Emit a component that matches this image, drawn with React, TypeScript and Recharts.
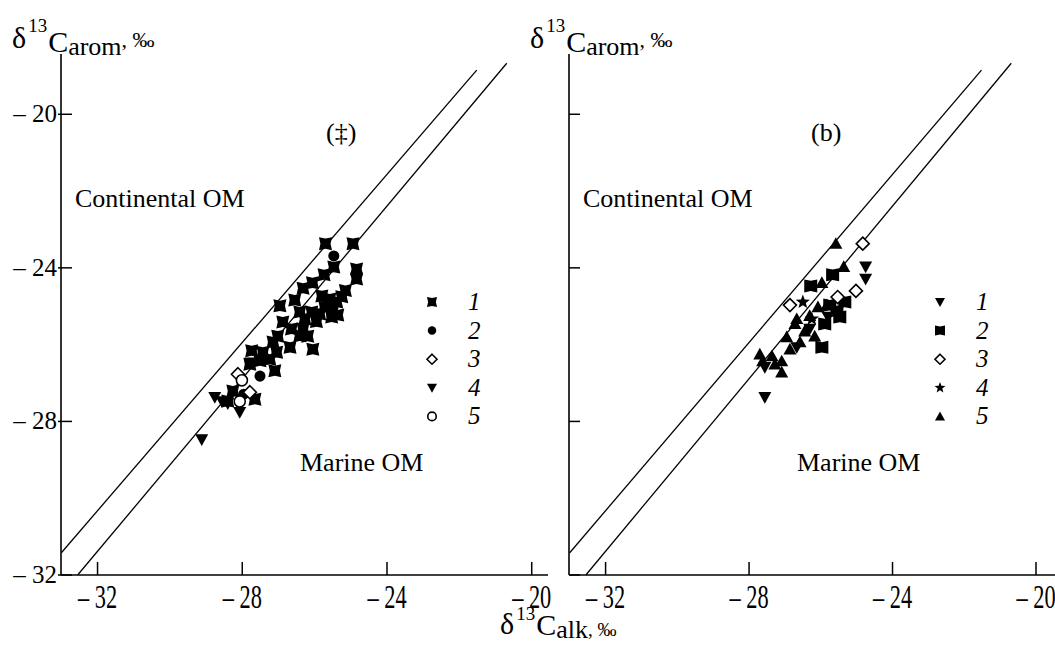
import { Legend, ReferenceLine, Scatter, ScatterChart, XAxis, YAxis } from 'recharts';

const SERIF = '"Liberation Serif", "Times New Roman", serif';

// axes
const X_TICKS = [-32, -28, -24, -20];
const Y_TICKS = [-32, -28, -24, -20];
const Y_DOMAIN: [number, number] = [-32, -18.43];
const LEFT_X_DOMAIN: [number, number] = [-33.01, -19.55];
const RIGHT_X_DOMAIN: [number, number] = [-33.02, -19.47];

// the two boundary lines (δ13C_alk, δ13C_arom)
const UPPER_LINE = [[-33.0, -31.42], [-21.52, -18.85]];
const LOWER_LINE = [[-32.55, -32.0], [-20.69, -18.67]];

// panel (a)
const leftSet1 = [
    [-25.7, -23.37], [-24.94, -23.37], [-25.47, -23.98], [-25.74, -24.18], [-24.84, -24.03],
    [-24.84, -24.29], [-26.06, -24.39], [-26.32, -24.53], [-25.15, -24.59], [-26.55, -24.84],
    [-26.96, -24.99], [-25.8, -24.73], [-25.58, -24.81], [-25.39, -24.89], [-25.72, -25.02],
    [-25.5, -25.12], [-25.86, -25.2], [-25.36, -25.23], [-25.53, -25.28], [-26.41, -25.15],
    [-26.08, -25.15], [-26.88, -25.41], [-26.64, -25.59], [-26.32, -25.59], [-26.19, -25.78],
    [-27.02, -25.78], [-27.15, -25.93], [-26.68, -26.07], [-26.05, -26.12], [-27.05, -26.2],
    [-27.43, -26.2], [-27.74, -26.16], [-27.51, -26.42], [-27.24, -26.38], [-27.79, -26.51],
    [-27.1, -26.68], [-27.65, -27.42], [-28.26, -27.21], [-28.4, -27.47], [-26.27, -25.33],
    [-26.41, -25.77], [-25.65, -24.95], [-25.95, -25.4], [-25.25, -24.75],
];
const leftSet2 = [[-25.47, -23.69], [-27.51, -26.82], [-27.96, -27.29]];
const leftSet3 = [[-28.12, -26.77], [-27.79, -27.24]];
const leftSet4 = [
    [-29.12, -28.47], [-28.76, -27.37], [-28.56, -27.48], [-28.4, -27.53], [-28.07, -27.76],
    [-27.76, -26.47],
];
const leftSet5 = [[-28.01, -26.93], [-28.07, -27.48]];

// panel (b)
const rightSet1 = [
    [-24.75, -23.97], [-24.75, -24.29], [-27.56, -27.37], [-26.67, -26.07], [-27.56, -26.59],
    [-25.8, -25.28], [-26.31, -25.59],
];
const rightSet2 = [
    [-25.67, -24.18], [-26.28, -24.47], [-25.97, -26.07], [-25.47, -25.28], [-25.75, -24.97],
    [-25.33, -24.89], [-25.55, -25.12], [-25.89, -25.46],
];
const rightSet3 = [[-24.83, -23.37], [-25.02, -24.6], [-25.53, -24.76], [-26.86, -24.97]];
const rightSet4 = [[-26.5, -24.89], [-26.25, -25.33]];
const rightSet5 = [
    [-25.58, -23.37], [-25.36, -23.97], [-25.97, -24.39], [-26.67, -25.33], [-26.95, -25.8],
    [-27.7, -26.25], [-27.36, -26.3], [-27.09, -26.43], [-27.09, -26.72], [-27.62, -26.43],
    [-26.31, -25.25], [-26.08, -25.02], [-26.45, -25.65], [-26.72, -25.46], [-26.17, -25.78],
    [-25.83, -24.97], [-26.58, -25.93], [-26.86, -26.12], [-27.28, -26.51],
];

const LEFT_KINDS = ['xsq', 'dot', 'diamond', 'tdown', 'ring'];
const RIGHT_KINDS = ['tdown', 'sq', 'diamond', 'star', 'tup'];
const SERIES_NAMES = ['1', '2', '3', '4', '5'];

const toPoints = (arr: number[][]) => arr.map(([x, y]) => ({ x, y }));

const fmt = (v: number) => (v < 0 ? `– ${Math.abs(v)}` : `${v}`);

function marker(kind: string, cx: number, cy: number, h: number) {
    const k = 0.78;
    switch (kind) {
        case 'xsq':
            return (
                <path
                    d={`M${cx - h},${cy - h} L${cx},${cy - h * k} L${cx + h},${cy - h} L${cx + h * k},${cy} L${cx + h},${cy + h} L${cx},${cy + h * k} L${cx - h},${cy + h} L${cx - h * k},${cy} Z`}
                    fill="#000"
                />
            );
        case 'sq':
            return (
                <path
                    d={`M${cx - h},${cy - h} L${cx},${cy - h * 0.8} L${cx + h},${cy - h} L${cx + h},${cy + h} L${cx},${cy + h * 0.8} L${cx - h},${cy + h} Z`}
                    fill="#000"
                />
            );
        case 'dot':
            return <circle cx={cx} cy={cy} r={h * 0.85} fill="#000" />;
        case 'ring':
            return <circle cx={cx} cy={cy} r={h * 0.85} fill="#fff" stroke="#000" strokeWidth={1.6} />;
        case 'diamond':
            return (
                <path
                    d={`M${cx},${cy - h} L${cx + h},${cy} L${cx},${cy + h} L${cx - h},${cy} Z`}
                    fill="#fff"
                    stroke="#000"
                    strokeWidth={1.6}
                />
            );
        case 'tdown':
            return (
                <path
                    d={`M${cx - h},${cy - h * 0.8} L${cx + h},${cy - h * 0.8} L${cx},${cy + h} Z`}
                    fill="#000"
                />
            );
        case 'tup':
            return (
                <path
                    d={`M${cx - h},${cy + h * 0.8} L${cx + h},${cy + h * 0.8} L${cx},${cy - h} Z`}
                    fill="#000"
                />
            );
        case 'star': {
            const pts: string[] = [];
            for (let i = 0; i < 10; i++) {
                const r = i % 2 === 0 ? h * 1.15 : h * 0.48;
                const a = -Math.PI / 2 + (i * Math.PI) / 5;
                pts.push(`${cx + r * Math.cos(a)},${cy + r * Math.sin(a)}`);
            }
            return <polygon points={pts.join(' ')} fill="#000" />;
        }
        default:
            return null;
    }
}

const makeShape = (kind: string) => (props: any) => marker(kind, props.cx, props.cy, 6.5);

const yTick = (showLabel: boolean) => (props: any) => {
    const { x, y, payload } = props;
    return (
        <g>
            <line x1={x - (showLabel ? 3 : 0)} x2={x + 11} y1={y} y2={y} stroke="#000" strokeWidth={1.5} />
            {showLabel && (
                <text x={x - 4} y={y + 8} textAnchor="end" fontSize={25} fontFamily={SERIF} fill="#000">
                    {fmt(payload.value)}
                </text>
            )}
        </g>
    );
};

// the x labels in the source are narrow and tall
const xTick = (props: any) => {
    const { x, y, payload } = props;
    return (
        <g>
            <line x1={x} x2={x} y1={y} y2={y - 13} stroke="#000" strokeWidth={1.5} />
            <text
                transform={`translate(${x},${y + 33}) scale(0.86,1.28)`}
                textAnchor="middle"
                fontSize={26}
                fontFamily={SERIF}
                fill="#000"
            >
                {fmt(payload.value)}
            </text>
        </g>
    );
};

const legendContent = (kinds: string[]) => (props: any) => {
    const payload = props.payload || [];
    return (
        <svg width={80} height={150}>
            {payload.map((entry: any, i: number) => {
                const idx = SERIES_NAMES.indexOf(String(entry.value));
                const cy = 14 + idx * 28.6;
                return (
                    <g key={`lg-${i}`}>
                        {marker(kinds[idx], 12, cy, 5)}
                        <text x={48} y={cy + 8} fontSize={25} fontStyle="italic" fontFamily={SERIF} fill="#000">
                            {entry.value}
                        </text>
                    </g>
                );
            })}
        </svg>
    );
};

interface PanelProps {
    left: number;
    width: number;
    xDomain: [number, number];
    sets: number[][][];
    kinds: string[];
    showYLabels: boolean;
    rightMargin: number;
}

function Panel({ left, width, xDomain, sets, kinds, showYLabels, rightMargin }: PanelProps) {
    return (
        <div style={{ position: 'absolute', left, top: 0 }}>
            <ScatterChart width={width} height={645} margin={{ top: 54, right: rightMargin, left: 0, bottom: 0 }}>
                <XAxis
                    type="number"
                    dataKey="x"
                    domain={xDomain}
                    ticks={X_TICKS}
                    height={70}
                    tickSize={0}
                    tickMargin={0}
                    tickLine={false}
                    tick={xTick}
                    axisLine={{ stroke: '#000', strokeWidth: 1.6 }}
                    interval={0}
                />
                <YAxis
                    type="number"
                    dataKey="y"
                    domain={Y_DOMAIN}
                    ticks={Y_TICKS}
                    width={61}
                    tickSize={0}
                    tickMargin={0}
                    tickLine={false}
                    tick={yTick(showYLabels)}
                    axisLine={{ stroke: '#000', strokeWidth: 1.6 }}
                    interval={0}
                />
                <ReferenceLine
                    segment={[
                        { x: UPPER_LINE[0][0], y: UPPER_LINE[0][1] },
                        { x: UPPER_LINE[1][0], y: UPPER_LINE[1][1] },
                    ]}
                    stroke="#000"
                    strokeWidth={1.3}
                    ifOverflow="visible"
                />
                <ReferenceLine
                    segment={[
                        { x: LOWER_LINE[0][0], y: LOWER_LINE[0][1] },
                        { x: LOWER_LINE[1][0], y: LOWER_LINE[1][1] },
                    ]}
                    stroke="#000"
                    strokeWidth={1.3}
                    ifOverflow="visible"
                />
                {sets.map((set, i) => (
                    <Scatter
                        key={SERIES_NAMES[i]}
                        name={SERIES_NAMES[i]}
                        data={toPoints(set)}
                        shape={makeShape(kinds[i])}
                        fill="#000"
                        isAnimationActive={false}
                    />
                ))}
                <Legend
                    layout="horizontal"
                    align="center"
                    verticalAlign="middle"
                    content={legendContent(kinds)}
                    wrapperStyle={{ left: 420, top: 288, width: 80, height: 150 }}
                />
            </ScatterChart>
        </div>
    );
}

// dy: [13, C, sub, ‰] vertical shifts relative to the previous piece
function Title({ x, y, sub, dy, pm }: { x: number; y: number; sub: string; dy: number[]; pm: number }) {
    return (
        <text x={x} y={y} fontFamily={SERIF} fontSize={30} fill="#000">
            δ
            <tspan fontSize={19} dx={2} dy={dy[0]}>13</tspan>
            <tspan fontSize={30} dx={1} dy={dy[1]}>C</tspan>
            <tspan fontSize={26} dy={dy[2]}>{sub}</tspan>
            <tspan fontSize={pm} dy={dy[3]}>, ‰</tspan>
        </text>
    );
}

const textStyle = { fontFamily: SERIF, fontSize: 26, fill: '#000' };

export default function App() {
    return (
        <div style={{ position: 'absolute', left: 0, top: 0, width: 1055, height: 645, background: '#fff' }}>
            <Panel
                left={0}
                width={560}
                xDomain={LEFT_X_DOMAIN}
                sets={[leftSet1, leftSet2, leftSet3, leftSet4, leftSet5]}
                kinds={LEFT_KINDS}
                showYLabels
                rightMargin={12}
            />
            <Panel
                left={508}
                width={547}
                xDomain={RIGHT_X_DOMAIN}
                sets={[rightSet1, rightSet2, rightSet3, rightSet4, rightSet5]}
                kinds={RIGHT_KINDS}
                showYLabels={false}
                rightMargin={0}
            />
            <svg
                width={1055}
                height={645}
                style={{ position: 'absolute', left: 0, top: 0, pointerEvents: 'none' }}
            >
                <Title x={12} y={48} sub="arom" dy={[-16, 20, 3, -8]} pm={22} />
                <Title x={530} y={48} sub="arom" dy={[-16, 20, 3, -8]} pm={22} />
                <Title x={500} y={634} sub="alk" dy={[-14, 15, 3, -2]} pm={19} />
                <text x={326} y={141} {...textStyle}>(‡)</text>
                <text x={75} y={207} {...textStyle}>Continental OM</text>
                <text x={300} y={471} {...textStyle}>Marine OM</text>
                <text x={811} y={141} {...textStyle}>(b)</text>
                <text x={583} y={207} {...textStyle}>Continental OM</text>
                <text x={797} y={471} {...textStyle}>Marine OM</text>
            </svg>
        </div>
    );
}
